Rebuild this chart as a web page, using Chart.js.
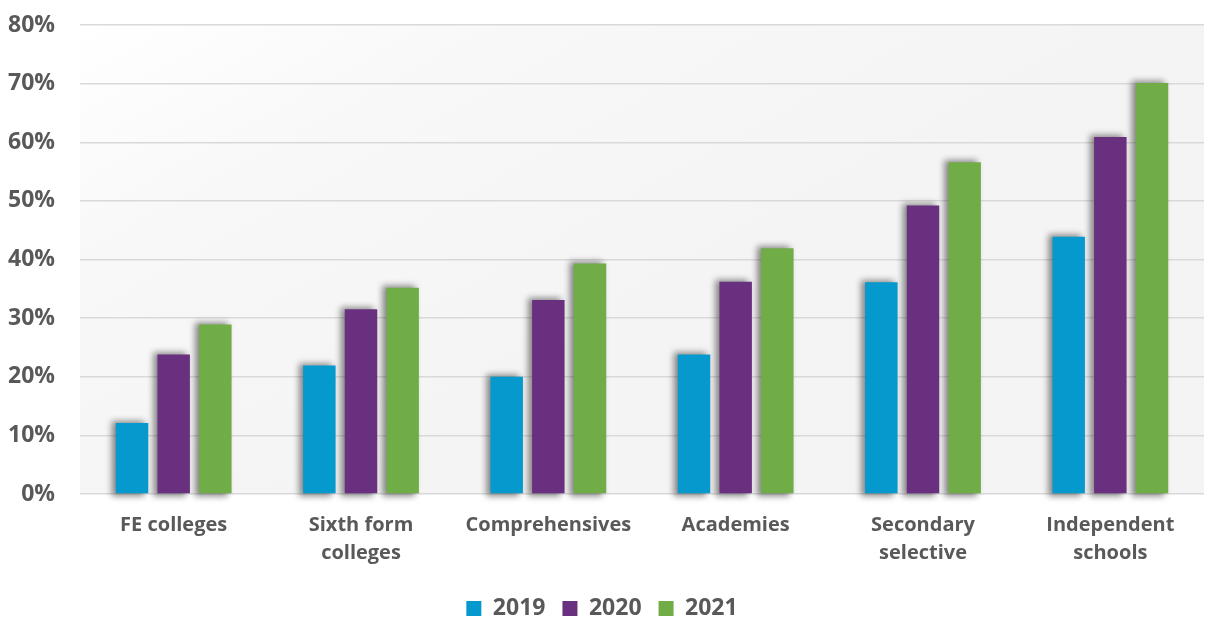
<!DOCTYPE html>
<html>
<head>
<meta charset="utf-8">
<script src="https://cdn.jsdelivr.net/npm/chart.js@4"></script>
<style>
  html, body { margin: 0; padding: 0; background: #fff; }
  #wrap { width: 1205px; height: 619px; }
</style>
</head>
<body>
<div id="wrap"><canvas id="barChart"></canvas></div>
<script>
const categories = [
    "FE colleges",
    ["Sixth form", "colleges"],
    "Comprehensives",
    "Academies",
    ["Secondary", "selective"],
    ["Independent", "schools"]
];
const years = ["2019", "2020", "2021"];
const values2019 = [12.1, 21.9, 20.0, 23.8, 36.1, 43.9];
const values2020 = [23.8, 31.5, 33.1, 36.2, 49.2, 60.9];
const values2021 = [28.9, 35.2, 39.3, 41.9, 56.6, 70.1];
const yTicks = [0, 10, 20, 30, 40, 50, 60, 70, 80];

const colors = ["#0599CE", "#6A3080", "#70AD47"];
const textColor = "#595959";

// soft grey wash behind the plot
const plotBackground = {
    id: "plotBackground",
    beforeDraw(chart) {
        const { ctx, chartArea } = chart;
        const { left, top, right, bottom } = chartArea;
        const g = ctx.createLinearGradient(left, top, left + 260, bottom);
        g.addColorStop(0, "#ffffff");
        g.addColorStop(0.4, "#f8f8f8");
        g.addColorStop(1, "#f4f4f4");
        ctx.save();
        ctx.fillStyle = g;
        ctx.fillRect(left, top, right - left, bottom - top);
        ctx.restore();
    }
};

// blurred shadow painted behind every bar, up and to the left
const barShadow = {
    id: "barShadow",
    beforeDatasetsDraw(chart) {
        const ctx = chart.ctx;
        ctx.save();
        ctx.filter = "blur(3px)";
        ctx.fillStyle = "rgba(0,0,0,0.45)";
        chart.data.datasets.forEach((ds, i) => {
            chart.getDatasetMeta(i).data.forEach(bar => {
                const { x, y, base, width } = bar.getProps(["x", "y", "base", "width"], true);
                ctx.fillRect(x - width / 2 - 4, y - 2, width, base - y + 5);
            });
        });
        ctx.restore();
    }
};

const data = {
    labels: categories,
    datasets: [values2019, values2020, values2021].map((vals, i) => ({
        label: years[i],
        data: vals,
        backgroundColor: colors[i],
        categoryPercentage: 0.667,
        barPercentage: 0.78
    }))
};

const options = {
    animation: false,
    responsive: true,
    maintainAspectRatio: false,
    layout: { padding: { left: 0, right: 1, top: 25, bottom: -11 } },
    plugins: {
        legend: {
            position: "bottom",
            labels: {
                boxWidth: 15,
                boxHeight: 15,
                padding: 17,
                color: textColor,
                font: { family: "Open Sans", size: 23, weight: "bold" }
            }
        },
        tooltip: { enabled: false }
    },
    scales: {
        x: {
            grid: { display: false },
            border: { display: false },
            afterFit(scale) {
                scale.height += 4;
            },
            ticks: {
                color: textColor,
                padding: 9,
                maxRotation: 0,
                autoSkip: false,
                font: { family: "Open Sans", size: 20, weight: "bold", lineHeight: 1.4 }
            }
        },
        y: {
            min: 0,
            max: 80,
            afterBuildTicks(scale) {
                scale.ticks = yTicks.map(v => ({ value: v }));
            },
            afterFit(scale) {
                scale.width = 80;
                scale.paddingTop = 0;
                scale.paddingBottom = 0;
            },
            grid: { color: "#d9d9d9", lineWidth: 1.5, drawTicks: false },
            border: { display: false },
            ticks: {
                color: textColor,
                padding: 25,
                font: { family: "Open Sans", size: 23, weight: "bold" },
                callback: v => v + "%"
            }
        }
    }
};

new Chart(document.getElementById("barChart"), {
    type: "bar",
    data,
    options,
    plugins: [plotBackground, barShadow]
});
</script>
</body>
</html>
